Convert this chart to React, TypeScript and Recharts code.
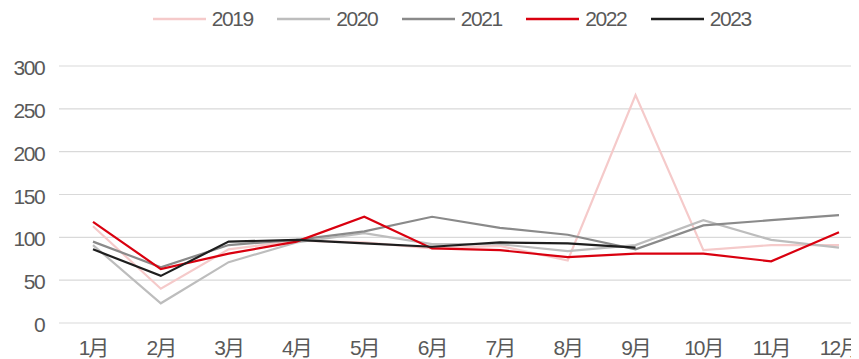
import React from 'react';
import { LineChart, Line, XAxis, YAxis, CartesianGrid, Legend } from 'recharts';

const months = ['1月', '2月', '3月', '4月', '5月', '6月', '7月', '8月', '9月', '10月', '11月', '12月'];
const s2019 = [113, 40, 86, 96, 94, 87, 90, 73, 266, 85, 91, 91];
const s2020 = [91, 23, 71, 94, 105, 92, 92, 84, 91, 120, 97, 88];
const s2021 = [95, 65, 91, 97, 107, 124, 111, 103, 86, 114, 120, 126];
const s2022 = [118, 63, 81, 95, 124, 87, 85, 77, 81, 81, 72, 106];
const s2023: (number | null)[] = [86, 55, 95, 97, 93, 89, 94, 93, 88, null, null, null];
const yTicks = [0, 50, 100, 150, 200, 250, 300];

const seriesList = [
  { key: '2019', values: s2019, color: '#F5CACA' },
  { key: '2020', values: s2020, color: '#BDBDBD' },
  { key: '2021', values: s2021, color: '#8A8A8A' },
  { key: '2022', values: s2022, color: '#D9000F' },
  { key: '2023', values: s2023, color: '#1E1E1E' },
];

const data = months.map((m, i) => {
  const row: Record<string, any> = { month: m };
  seriesList.forEach((s) => {
    row[s.key] = s.values[i];
  });
  return row;
});

const TEXT = '#595959';

const LegendContent = () => (
  <div style={{ display: 'flex', alignItems: 'center', fontFamily: '"Liberation Sans", sans-serif', fontSize: 21, letterSpacing: '-1.4px', lineHeight: '26px', color: TEXT, height: 26 }}>
    {seriesList.map((s) => (
      <div key={s.key} style={{ display: 'flex', alignItems: 'center', width: 124.5, flex: '0 0 124.5px', height: 26 }}>
        <svg width={53} height={4} style={{ marginRight: 6, display: 'block' }}>
          <line x1={0} y1={2} x2={53} y2={2} stroke={s.color} strokeWidth={2.5} />
        </svg>
        <span style={{ whiteSpace: 'nowrap' }}>{s.key}</span>
      </div>
    ))}
  </div>
);

const XTick = (props: any) => {
  const { x, y, payload } = props;
  return (
    <text x={x} y={y} dy={23.8} textAnchor="middle" fill={TEXT} fontSize={21} letterSpacing={-2} fontFamily='"Liberation Sans", "Noto Sans CJK SC", sans-serif'>
      {payload.value}
    </text>
  );
};

const YTick = (props: any) => {
  const { x, y, payload } = props;
  return (
    <text x={x} y={y} dy={9} textAnchor="end" fill={TEXT} fontSize={21} letterSpacing={-1.4} fontFamily='"Liberation Sans", sans-serif'>
      {payload.value}
    </text>
  );
};

export default function App() {
  return (
    <div style={{ width: 851, height: 351, overflow: 'hidden' }}>
      <LineChart width={870} height={351} data={data} margin={{ top: 32, right: 5, left: 0, bottom: 0 }}>
        <CartesianGrid vertical={false} stroke="#D9D9D9" strokeWidth={1.2} />
        <XAxis
          dataKey="month"
          axisLine={false}
          tickLine={false}
          height={36}
          tickMargin={2}
          padding={{ left: 34, right: 34 }}
          tick={<XTick />}
          interval={0}
        />
        <YAxis
          width={51}
          domain={[0, 300]}
          ticks={yTicks}
          axisLine={false}
          tickLine={false}
          tickMargin={8.6}
          tick={<YTick />}
        />
        <Legend
          verticalAlign="top"
          content={<LegendContent />}
          wrapperStyle={{ top: -2.5, left: 144.7, width: 640, height: 26 }}
        />
        {seriesList.map((s) => (
          <Line
            key={s.key}
            type="linear"
            dataKey={s.key}
            stroke={s.color}
            strokeWidth={2.2}
            dot={false}
            activeDot={false}
            isAnimationActive={false}
            connectNulls={false}
          />
        ))}
      </LineChart>
    </div>
  );
}
